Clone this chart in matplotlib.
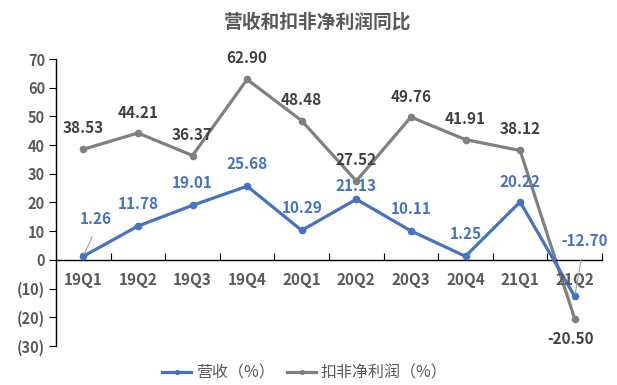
import matplotlib
matplotlib.use("Agg")
import matplotlib.pyplot as plt

plt.rcParams['font.family'] = ['Noto Sans CJK SC', 'DejaVu Sans']

# 数据
quarters = ['19Q1', '19Q2', '19Q3', '19Q4', '20Q1', '20Q2', '20Q3', '20Q4', '21Q1', '21Q2']
revenue = [1.26, 11.78, 19.01, 25.68, 10.29, 21.13, 10.11, 1.25, 20.22, -12.70]
profit = [38.53, 44.21, 36.37, 62.90, 48.48, 27.52, 49.76, 41.91, 38.12, -20.50]
yticks = [-30, -20, -10, 0, 10, 20, 30, 40, 50, 60, 70]
ytick_labels = ['(30)', '(20)', '(10)', '0', '10', '20', '30', '40', '50', '60', '70']

blue = '#4472C4'
gray = '#808080'
txt = '#595959'
lbl = '#404040'

fig = plt.figure(figsize=(6.17, 3.85), dpi=100)
ax = fig.add_axes([56 / 617, 1 - 346 / 385, 546 / 617, 287 / 385])

x = list(range(len(quarters)))
ax.plot(x, revenue, color=blue, lw=2.3, marker='o', ms=4.5, label='营收（%）', zorder=3)
ax.plot(x, profit, color=gray, lw=2.3, marker='o', ms=4.5, label='扣非净利润（%）', zorder=2)

ax.set_xlim(-0.5, len(quarters) - 0.5)
ax.set_ylim(-30, 70)
ax.set_yticks(yticks)
ax.set_yticklabels(ytick_labels)

# x轴放在0处，刻度在分类边界
ax.spines['bottom'].set_position(('data', 0))
ax.spines['top'].set_visible(False)
ax.spines['right'].set_visible(False)
for s in ['bottom', 'left']:
    ax.spines[s].set_color('black')
    ax.spines[s].set_linewidth(1)
ax.set_xticks([i + 0.5 for i in x])
ax.set_xticklabels([])
ax.tick_params(axis='x', direction='in', length=5, color='black')
ax.tick_params(axis='y', direction='out', length=5, color='black', labelsize=10.5,
               labelcolor=txt, pad=3)
for lab in ax.get_yticklabels():
    lab.set_fontweight('bold')
for i, q in enumerate(quarters):
    ax.annotate(q, (i, 0), xytext=(0, -20), textcoords='offset pixels', ha='center',
                va='center', fontsize=11, fontweight='bold', color=txt)

# 数据标签
rev_off = [(12, 37), (0, 22), (0, 22), (0, 22), (0, 22), (0, 13), (0, 22), (0, 22), (0, 20), (10, 55)]
pro_off = [(0, 21), (0, 20), (0, 21), (0, 21), (0, 21), (0, 21), (0, 20), (0, 21), (0, 21), (-4, -20)]
for i, v in enumerate(revenue):
    ax.annotate(f'{v:.2f}', (i, v), xytext=rev_off[i], textcoords='offset pixels',
                ha='center', va='center', fontsize=11, fontweight='bold', color=blue, zorder=5)
for i, v in enumerate(profit):
    ax.annotate(f'{v:.2f}', (i, v), xytext=pro_off[i], textcoords='offset pixels',
                ha='center', va='center', fontsize=11, fontweight='bold', color=lbl, zorder=5)

# 引导线
ax.annotate('', (0, revenue[0]), xytext=(10, 22), textcoords='offset pixels',
            arrowprops=dict(arrowstyle='-', color='#A6A6A6', lw=0.8))
ax.annotate('', (9, revenue[9]), xytext=(7, 40), textcoords='offset pixels',
            arrowprops=dict(arrowstyle='-', color='#A6A6A6', lw=0.8))

fig.text(318 / 617, 1 - 22 / 385, '营收和扣非净利润同比', ha='center', va='center',
         fontsize=13.5, fontweight='bold', color=txt)

ax.legend(loc='center', bbox_to_anchor=(305 / 617, 1 - 373 / 385), bbox_transform=fig.transFigure,
          ncol=2, frameon=False, fontsize=11.5, labelcolor=txt, handlelength=1.8,
          handletextpad=0.3, columnspacing=0.8, markerscale=0.6)

fig.savefig('out.png', dpi=100)
